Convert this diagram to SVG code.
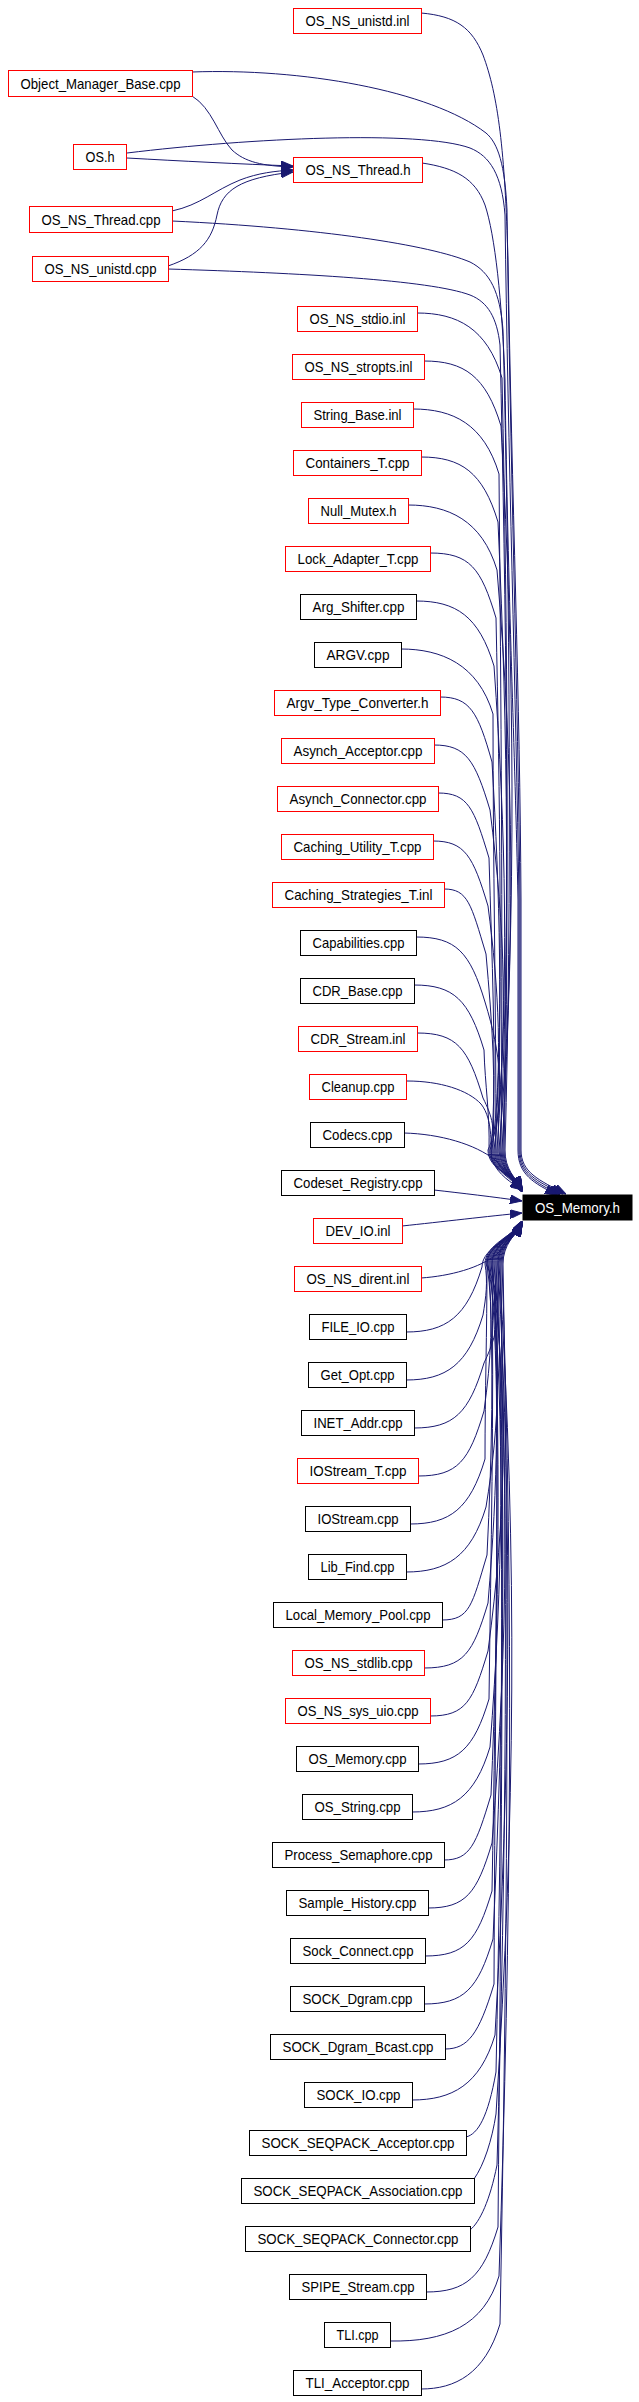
<svg xmlns="http://www.w3.org/2000/svg" width="639" height="2402" viewBox="0 0 639 2402">
<defs>
<style>
.e{fill:none;stroke:#191970;stroke-width:1;marker-end:url(#ah)}
.r{fill:#fff;stroke:#f00;stroke-width:1}
.k{fill:#fff;stroke:#000;stroke-width:1}
text{font-family:"Liberation Sans",Arial,Helvetica,sans-serif;font-size:14.5px;text-anchor:middle;fill:#000}
</style>
<marker id="ah" markerUnits="userSpaceOnUse" markerWidth="12" markerHeight="9" refX="12" refY="4.5" orient="auto"><path d="M0,0 L12,4.5 L0,9 z" fill="#191970" stroke="#191970" stroke-width="1"/></marker>
</defs>
<rect width="639" height="2402" fill="#fff"/>
<g id="edges">
<path class="e" d="M192,96 C212,108 218,135 232,150 C245,162 262,166 293,167"/>
<path class="e" d="M127,158 C180,161 240,164 293,166"/>
<path class="e" d="M172,211 C200,205 215,190 240,180 C258,173 275,171 293,170"/>
<path class="e" d="M168,266 C200,255 212,240 217,215 C222,190 240,178 293,172"/>
<path class="e" d="M421,13 C456,16 472,28 483,55 C498,95 505,150 508,260 C512,500 520,700 521,900 L521,1150 C521,1172 538,1180 566,1194"/>
<path class="e" d="M192,72 C300,68 430,90 486,133 C498,143 505,165 507,210 C510,450 518,700 520,900 L520,1150 C520,1173 536,1181 563,1194"/>
<path class="e" d="M127,153 C250,138 420,130 470,148 C490,156 502,175 505,215 C508,450 516,700 519,900 L519,1150 C519,1174 535,1182 560,1195"/>
<path class="e" d="M422,163 C455,168 475,178 485,205 C495,235 502,300 505,380 C508,600 515,750 518,900 L518,1150 C518,1175 534,1183 557,1195"/>
<path class="e" d="M172,221 C320,228 430,245 470,262 C490,272 500,292 503,330 C510,600 512,900 505,1150 C505,1170 515,1177 522,1189"/>
<path class="e" d="M168,269 C300,273 430,280 470,295 C488,302 497,318 500,345 C506,600 510,900 504,1150 C504,1170 515,1178 522,1190"/>
<path class="e" d="M417,313 C457,313 487,328 502,378 C508,649 509,879 503,1150 C503,1170 515,1176 522,1189"/>
<path class="e" d="M424,361 C464,361 486,376 501,426 C515,680 516,896 502,1150 C502,1170 515,1177 522,1190"/>
<path class="e" d="M413,409 C453,409 484,424 499,474 C501,711 503,913 501,1150 C501,1170 515,1178 522,1191"/>
<path class="e" d="M421,457 C461,457 483,472 498,522 C508,742 510,930 500,1150 C500,1170 515,1179 522,1192"/>
<path class="e" d="M408,505 C448,505 482,520 497,570 C514,773 516,947 499,1150 C499,1170 515,1175 522,1188"/>
<path class="e" d="M430,553 C470,553 481,568 496,618 C500,805 502,963 498,1150 C498,1170 515,1176 522,1189"/>
<path class="e" d="M416,601 C456,601 479,616 494,666 C506,836 509,980 497,1150 C497,1170 515,1177 522,1190"/>
<path class="e" d="M401,649 C441,649 478,664 493,714 C493,867 496,997 496,1150 C496,1170 515,1178 522,1191"/>
<path class="e" d="M440,697 C470,697 478,712 492,762 C500,898 503,1014 495,1150 C495,1170 515,1179 522,1192"/>
<path class="e" d="M434,745 C466,745 475,760 490,810 C505,929 509,1031 494,1150 C494,1170 515,1175 522,1188"/>
<path class="e" d="M438,793 C468,793 474,808 489,858 C492,961 496,1047 493,1150 C493,1170 515,1176 522,1189"/>
<path class="e" d="M433,841 C465,841 473,856 488,906 C499,991 503,1064 492,1150 C492,1170 515,1177 522,1190"/>
<path class="e" d="M444,889 C468,889 471,904 486,954 C492,1023 497,1081 491,1150 C491,1170 515,1178 522,1191"/>
<path class="e" d="M416,937 C456,937 470,952 485,1002 C501,1054 506,1098 490,1150 C490,1170 515,1179 522,1192"/>
<path class="e" d="M414,985 C454,985 469,1000 484,1050 C485,1085 490,1115 489,1150 C489,1170 515,1175 522,1188"/>
<path class="e" d="M417,1033 C457,1033 468,1048 483,1098 C492,1116 497,1131 488,1150 C488,1170 515,1176 522,1189"/>
<path class="e" d="M407,1081 C440,1081 468,1090 481,1104 C494,1120 490,1150 492,1160 C498,1175 512,1183 522,1190"/>
<path class="e" d="M404,1133 C440,1134 475,1144 495,1160 C506,1170 515,1180 522,1191"/>
<path class="e" d="M434,1190 C460,1193 495,1197 522,1201"/>
<path class="e" d="M402,1226 C440,1222 490,1216 522,1213"/>
<path class="e" d="M421,1278 C450,1276 480,1268 497,1254 C508,1244 515,1234 522,1224"/>
<path class="e" d="M406,1332 C446,1332 467,1317 482,1267 C482,1247 515,1237 522,1222"/>
<path class="e" d="M406,1380 C446,1380 468,1365 483,1315 C486,1297 488,1282 485,1264 C485,1244 515,1235 522,1222"/>
<path class="e" d="M414,1428 C454,1428 469,1413 484,1363 C501,1328 503,1299 486,1264 C486,1244 515,1236 522,1223"/>
<path class="e" d="M418,1476 C458,1476 469,1461 484,1411 C491,1360 494,1315 487,1264 C487,1244 515,1237 522,1224"/>
<path class="e" d="M410,1524 C450,1524 470,1509 485,1459 C485,1391 487,1332 487,1264 C487,1244 515,1238 522,1225"/>
<path class="e" d="M406,1572 C446,1572 471,1557 486,1507 C500,1422 502,1349 488,1264 C488,1244 515,1234 522,1221"/>
<path class="e" d="M442,1620 C470,1620 472,1605 487,1555 C492,1453 494,1366 489,1264 C489,1244 515,1235 522,1222"/>
<path class="e" d="M424,1668 C464,1668 473,1653 488,1603 C498,1484 500,1383 490,1264 C490,1244 515,1236 522,1223"/>
<path class="e" d="M430,1716 C466,1716 473,1701 488,1651 C506,1516 509,1399 491,1264 C491,1244 515,1237 522,1224"/>
<path class="e" d="M418,1764 C458,1764 474,1749 489,1699 C491,1547 494,1416 492,1264 C492,1244 515,1238 522,1225"/>
<path class="e" d="M412,1812 C452,1812 475,1797 490,1747 C503,1578 505,1433 492,1264 C492,1244 515,1234 522,1221"/>
<path class="e" d="M444,1860 C470,1860 476,1845 491,1795 C499,1609 501,1450 493,1264 C493,1244 515,1235 522,1222"/>
<path class="e" d="M428,1908 C466,1908 477,1893 492,1843 C508,1640 510,1467 494,1264 C494,1244 515,1236 522,1223"/>
<path class="e" d="M425,1956 C465,1956 477,1941 492,1891 C496,1672 499,1483 495,1264 C495,1244 515,1237 522,1224"/>
<path class="e" d="M424,2004 C464,2004 478,1989 493,1939 C504,1703 507,1500 496,1264 C496,1244 515,1238 522,1225"/>
<path class="e" d="M445,2049 C468,2049 479,2034 494,1984 C495,1732 498,1516 497,1264 C497,1244 515,1234 522,1221"/>
<path class="e" d="M412,2100 C452,2100 480,2085 495,2035 C510,1765 513,1534 498,1264 C498,1244 515,1235 522,1222"/>
<path class="e" d="M466,2137 C478,2134 488,2117 496,2072 C502,1789 504,1547 498,1264 C498,1244 515,1236 522,1223"/>
<path class="e" d="M474,2179 C484,2165 492,2140 496,2114 C515,1816 518,1562 499,1264 C499,1244 515,1237 522,1224"/>
<path class="e" d="M470,2230 C480,2222 490,2200 497,2165 C506,1850 509,1579 500,1264 C500,1244 515,1238 522,1225"/>
<path class="e" d="M426,2292 C466,2292 483,2277 498,2227 C501,1890 504,1601 501,1264 C501,1244 515,1234 522,1221"/>
<path class="e" d="M390,2341 C445,2342 484,2326 499,2276 C511,1922 514,1618 502,1264 C502,1244 515,1235 522,1222"/>
<path class="e" d="M421,2389 C455,2389 485,2374 500,2324 C507,1953 510,1635 503,1264 C503,1244 515,1236 522,1223"/>
</g>
<g id="n_OS_Memory_h"><rect x="523" y="1195" width="109" height="25" fill="#000" stroke="#000"/><text x="577.5" y="1212.5" fill="#fff" style="fill:#fff" textLength="85" lengthAdjust="spacingAndGlyphs">OS_Memory.h</text></g>
<g id="n_OS_NS_unistd_inl"><rect class="r" x="293.5" y="8.5" width="128" height="25"/><text x="357.5" y="26" textLength="104" lengthAdjust="spacingAndGlyphs">OS_NS_unistd.inl</text></g>
<g id="n_Object_Manager_Base_cpp"><rect class="r" x="8.5" y="70.5" width="184" height="26"/><text x="100.5" y="88.5" textLength="160" lengthAdjust="spacingAndGlyphs">Object_Manager_Base.cpp</text></g>
<g id="n_OS_h"><rect class="r" x="73.5" y="144.5" width="53" height="25"/><text x="100" y="162" textLength="29" lengthAdjust="spacingAndGlyphs">OS.h</text></g>
<g id="n_OS_NS_Thread_h"><rect class="r" x="293.5" y="157.5" width="129" height="25"/><text x="358" y="175" textLength="105" lengthAdjust="spacingAndGlyphs">OS_NS_Thread.h</text></g>
<g id="n_OS_NS_Thread_cpp"><rect class="r" x="29.5" y="206.5" width="143" height="26"/><text x="101" y="224.5" textLength="119" lengthAdjust="spacingAndGlyphs">OS_NS_Thread.cpp</text></g>
<g id="n_OS_NS_unistd_cpp"><rect class="r" x="32.5" y="256.5" width="136" height="25"/><text x="100.5" y="274" textLength="112" lengthAdjust="spacingAndGlyphs">OS_NS_unistd.cpp</text></g>
<g id="n1"><rect class="r" x="297.5" y="306.5" width="120" height="25"/><text x="357.5" y="324" textLength="96" lengthAdjust="spacingAndGlyphs">OS_NS_stdio.inl</text></g>
<g id="n2"><rect class="r" x="292.5" y="354.5" width="132" height="25"/><text x="358.5" y="372" textLength="108" lengthAdjust="spacingAndGlyphs">OS_NS_stropts.inl</text></g>
<g id="n3"><rect class="r" x="301.5" y="402.5" width="112" height="25"/><text x="357.5" y="420" textLength="88" lengthAdjust="spacingAndGlyphs">String_Base.inl</text></g>
<g id="n4"><rect class="r" x="293.5" y="450.5" width="128" height="25"/><text x="357.5" y="468" textLength="104" lengthAdjust="spacingAndGlyphs">Containers_T.cpp</text></g>
<g id="n5"><rect class="r" x="308.5" y="498.5" width="100" height="25"/><text x="358.5" y="516" textLength="76" lengthAdjust="spacingAndGlyphs">Null_Mutex.h</text></g>
<g id="n6"><rect class="r" x="285.5" y="546.5" width="145" height="25"/><text x="358" y="564" textLength="121" lengthAdjust="spacingAndGlyphs">Lock_Adapter_T.cpp</text></g>
<g id="n7"><rect class="k" x="300.5" y="594.5" width="116" height="25"/><text x="358.5" y="612" textLength="92" lengthAdjust="spacingAndGlyphs">Arg_Shifter.cpp</text></g>
<g id="n8"><rect class="k" x="314.5" y="642.5" width="87" height="25"/><text x="358" y="660" textLength="63" lengthAdjust="spacingAndGlyphs">ARGV.cpp</text></g>
<g id="n9"><rect class="r" x="274.5" y="690.5" width="166" height="25"/><text x="357.5" y="708" textLength="142" lengthAdjust="spacingAndGlyphs">Argv_Type_Converter.h</text></g>
<g id="n10"><rect class="r" x="281.5" y="738.5" width="153" height="25"/><text x="358" y="756" textLength="129" lengthAdjust="spacingAndGlyphs">Asynch_Acceptor.cpp</text></g>
<g id="n11"><rect class="r" x="277.5" y="786.5" width="161" height="25"/><text x="358" y="804" textLength="137" lengthAdjust="spacingAndGlyphs">Asynch_Connector.cpp</text></g>
<g id="n12"><rect class="r" x="281.5" y="834.5" width="152" height="25"/><text x="357.5" y="852" textLength="128" lengthAdjust="spacingAndGlyphs">Caching_Utility_T.cpp</text></g>
<g id="n13"><rect class="r" x="272.5" y="882.5" width="172" height="25"/><text x="358.5" y="900" textLength="148" lengthAdjust="spacingAndGlyphs">Caching_Strategies_T.inl</text></g>
<g id="n14"><rect class="k" x="300.5" y="930.5" width="116" height="25"/><text x="358.5" y="948" textLength="92" lengthAdjust="spacingAndGlyphs">Capabilities.cpp</text></g>
<g id="n15"><rect class="k" x="300.5" y="978.5" width="114" height="25"/><text x="357.5" y="996" textLength="90" lengthAdjust="spacingAndGlyphs">CDR_Base.cpp</text></g>
<g id="n16"><rect class="r" x="298.5" y="1026.5" width="119" height="25"/><text x="358" y="1044" textLength="95" lengthAdjust="spacingAndGlyphs">CDR_Stream.inl</text></g>
<g id="n17"><rect class="r" x="309.5" y="1074.5" width="97" height="25"/><text x="358" y="1092" textLength="73" lengthAdjust="spacingAndGlyphs">Cleanup.cpp</text></g>
<g id="n18"><rect class="k" x="310.5" y="1122.5" width="94" height="25"/><text x="357.5" y="1140" textLength="70" lengthAdjust="spacingAndGlyphs">Codecs.cpp</text></g>
<g id="n19"><rect class="k" x="281.5" y="1170.5" width="153" height="25"/><text x="358" y="1188" textLength="129" lengthAdjust="spacingAndGlyphs">Codeset_Registry.cpp</text></g>
<g id="n20"><rect class="r" x="313.5" y="1218.5" width="89" height="25"/><text x="358" y="1236" textLength="65" lengthAdjust="spacingAndGlyphs">DEV_IO.inl</text></g>
<g id="n21"><rect class="r" x="294.5" y="1266.5" width="127" height="25"/><text x="358" y="1284" textLength="103" lengthAdjust="spacingAndGlyphs">OS_NS_dirent.inl</text></g>
<g id="n22"><rect class="k" x="309.5" y="1314.5" width="97" height="25"/><text x="358" y="1332" textLength="73" lengthAdjust="spacingAndGlyphs">FILE_IO.cpp</text></g>
<g id="n23"><rect class="k" x="308.5" y="1362.5" width="98" height="25"/><text x="357.5" y="1380" textLength="74" lengthAdjust="spacingAndGlyphs">Get_Opt.cpp</text></g>
<g id="n24"><rect class="k" x="301.5" y="1410.5" width="113" height="25"/><text x="358" y="1428" textLength="89" lengthAdjust="spacingAndGlyphs">INET_Addr.cpp</text></g>
<g id="n25"><rect class="r" x="297.5" y="1458.5" width="121" height="25"/><text x="358" y="1476" textLength="97" lengthAdjust="spacingAndGlyphs">IOStream_T.cpp</text></g>
<g id="n26"><rect class="k" x="305.5" y="1506.5" width="105" height="25"/><text x="358" y="1524" textLength="81" lengthAdjust="spacingAndGlyphs">IOStream.cpp</text></g>
<g id="n27"><rect class="k" x="308.5" y="1554.5" width="98" height="25"/><text x="357.5" y="1572" textLength="74" lengthAdjust="spacingAndGlyphs">Lib_Find.cpp</text></g>
<g id="n28"><rect class="k" x="273.5" y="1602.5" width="169" height="25"/><text x="358" y="1620" textLength="145" lengthAdjust="spacingAndGlyphs">Local_Memory_Pool.cpp</text></g>
<g id="n29"><rect class="r" x="292.5" y="1650.5" width="132" height="25"/><text x="358.5" y="1668" textLength="108" lengthAdjust="spacingAndGlyphs">OS_NS_stdlib.cpp</text></g>
<g id="n30"><rect class="r" x="285.5" y="1698.5" width="145" height="25"/><text x="358" y="1716" textLength="121" lengthAdjust="spacingAndGlyphs">OS_NS_sys_uio.cpp</text></g>
<g id="n31"><rect class="k" x="296.5" y="1746.5" width="122" height="25"/><text x="357.5" y="1764" textLength="98" lengthAdjust="spacingAndGlyphs">OS_Memory.cpp</text></g>
<g id="n32"><rect class="k" x="302.5" y="1794.5" width="110" height="25"/><text x="357.5" y="1812" textLength="86" lengthAdjust="spacingAndGlyphs">OS_String.cpp</text></g>
<g id="n33"><rect class="k" x="272.5" y="1842.5" width="172" height="25"/><text x="358.5" y="1860" textLength="148" lengthAdjust="spacingAndGlyphs">Process_Semaphore.cpp</text></g>
<g id="n34"><rect class="k" x="286.5" y="1890.5" width="142" height="25"/><text x="357.5" y="1908" textLength="118" lengthAdjust="spacingAndGlyphs">Sample_History.cpp</text></g>
<g id="n35"><rect class="k" x="290.5" y="1938.5" width="135" height="25"/><text x="358" y="1956" textLength="111" lengthAdjust="spacingAndGlyphs">Sock_Connect.cpp</text></g>
<g id="n36"><rect class="k" x="290.5" y="1986.5" width="134" height="25"/><text x="357.5" y="2004" textLength="110" lengthAdjust="spacingAndGlyphs">SOCK_Dgram.cpp</text></g>
<g id="n37"><rect class="k" x="270.5" y="2034.5" width="175" height="25"/><text x="358" y="2052" textLength="151" lengthAdjust="spacingAndGlyphs">SOCK_Dgram_Bcast.cpp</text></g>
<g id="n38"><rect class="k" x="304.5" y="2082.5" width="108" height="25"/><text x="358.5" y="2100" textLength="84" lengthAdjust="spacingAndGlyphs">SOCK_IO.cpp</text></g>
<g id="n39"><rect class="k" x="249.5" y="2130.5" width="217" height="25"/><text x="358" y="2148" textLength="193" lengthAdjust="spacingAndGlyphs">SOCK_SEQPACK_Acceptor.cpp</text></g>
<g id="n40"><rect class="k" x="241.5" y="2178.5" width="233" height="25"/><text x="358" y="2196" textLength="209" lengthAdjust="spacingAndGlyphs">SOCK_SEQPACK_Association.cpp</text></g>
<g id="n41"><rect class="k" x="245.5" y="2226.5" width="225" height="25"/><text x="358" y="2244" textLength="201" lengthAdjust="spacingAndGlyphs">SOCK_SEQPACK_Connector.cpp</text></g>
<g id="n42"><rect class="k" x="289.5" y="2274.5" width="137" height="25"/><text x="358" y="2292" textLength="113" lengthAdjust="spacingAndGlyphs">SPIPE_Stream.cpp</text></g>
<g id="n43"><rect class="k" x="324.5" y="2322.5" width="66" height="25"/><text x="357.5" y="2340" textLength="42" lengthAdjust="spacingAndGlyphs">TLI.cpp</text></g>
<g id="n44"><rect class="k" x="293.5" y="2370.5" width="128" height="25"/><text x="357.5" y="2388" textLength="104" lengthAdjust="spacingAndGlyphs">TLI_Acceptor.cpp</text></g>
</svg>
